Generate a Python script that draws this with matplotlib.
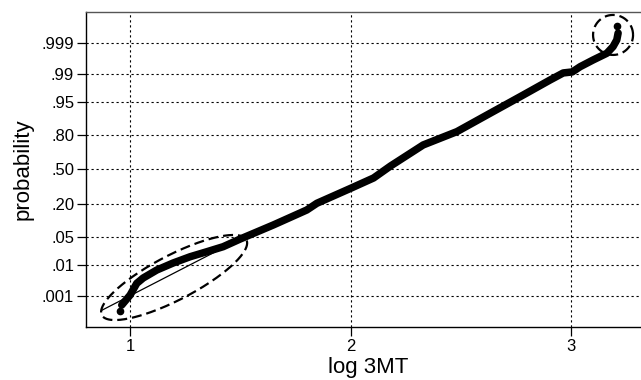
import numpy as np
import matplotlib
matplotlib.use("Agg")
import matplotlib.pyplot as plt
from statistics import NormalDist

# cumulative distribution of log 3MT
log_3mt = [0.962, 1.000, 1.030, 1.059, 1.121, 1.195, 1.272, 1.348, 1.422, 1.499,
           1.649, 1.801, 1.847, 2.000, 2.104, 2.181, 2.329, 2.482, 2.633, 2.783,
           2.905, 2.964, 3.005, 3.041, 3.100, 3.162, 3.190, 3.207, 3.213]
prob = [0.000475, 0.00110, 0.00275, 0.00407, 0.00712, 0.0113, 0.0167, 0.0225, 0.0299, 0.0450,
        0.0879, 0.1616, 0.205, 0.323, 0.418, 0.534, 0.725, 0.822, 0.915, 0.9654,
        0.9855, 0.9907, 0.9913, 0.9939, 0.99622, 0.99770, 0.99863, 0.99921, 0.99956]

# single extreme observations
outlier_x = [0.955, 3.209]
outlier_p = [0.000287, 0.99977]

# thin reference line through the lower tail
ref_x = [0.872, 1.484]
ref_p = [0.0003, 0.0412]

tick_probs = [0.001, 0.01, 0.05, 0.20, 0.50, 0.80, 0.95, 0.99, 0.999]
tick_labels = [".001", ".01", ".05", ".20", ".50", ".80", ".95", ".99", ".999"]
x_ticks = [1, 2, 3]

nd = NormalDist()


def probit(p):
    return np.array([nd.inv_cdf(v) for v in p])


def dashed_ellipse(ax, cx, cz, a_px, b_px, angle_deg, px_x, px_z):
    """Ellipse given in screen pixels, drawn in data units."""
    t = np.linspace(0, 2 * np.pi, 300)
    th = np.radians(angle_deg)
    dx = a_px * np.cos(t) * np.cos(th) - b_px * np.sin(t) * np.sin(th)
    dz = a_px * np.cos(t) * np.sin(th) + b_px * np.sin(t) * np.cos(th)
    ax.plot(cx + dx / px_x, cz + dz / px_z, color="black", lw=1.6,
            linestyle=(0, (4.5, 2.2)), solid_capstyle="butt", zorder=4)


fig = plt.figure(figsize=(6.41, 3.80), dpi=100)
ax = fig.add_axes([0.1342, 0.1395, 0.880, 0.829])

z = probit(prob)
ax.plot(log_3mt, z, color="black", lw=5.4, solid_capstyle="round",
        solid_joinstyle="round", zorder=3)
ax.plot(outlier_x, probit(outlier_p), "o", color="black", ms=4.5, zorder=3)
ax.plot(ref_x, probit(ref_p), color="black", lw=0.9, zorder=3)

ax.set_xlim(0.80, 3.358)
ax.set_ylim(-3.84, 3.84)

# pixels per data unit (x and probit)
px_x, px_z = 220.5, 41.0
dashed_ellipse(ax, 1.1995, -2.634, 81.5, 22.3, 27.5, px_x, px_z)
dashed_ellipse(ax, 3.19, 3.28, 20, 20, 0, px_x, px_z)

ax.set_yticks(probit(tick_probs))
ax.set_yticklabels(tick_labels)
ax.set_xticks(x_ticks)
ax.set_xticklabels([str(v) for v in x_ticks])

ax.grid(True, color="black", lw=0.8, linestyle=(0, (2, 2.5)))
ax.tick_params(direction="out", length=6.5, width=0.9, pad=2,
               labelsize=12, labelfontfamily="Liberation Sans")
for s in ax.spines.values():
    s.set_linewidth(1.0)
ax.spines["top"].set_color("#555555")

ax.set_xlabel("log 3MT", fontsize=16, family="Liberation Sans", labelpad=2.5)
ax.set_ylabel("probability", fontsize=16, family="Liberation Sans", labelpad=6)

fig.savefig("out.png", dpi=100)
